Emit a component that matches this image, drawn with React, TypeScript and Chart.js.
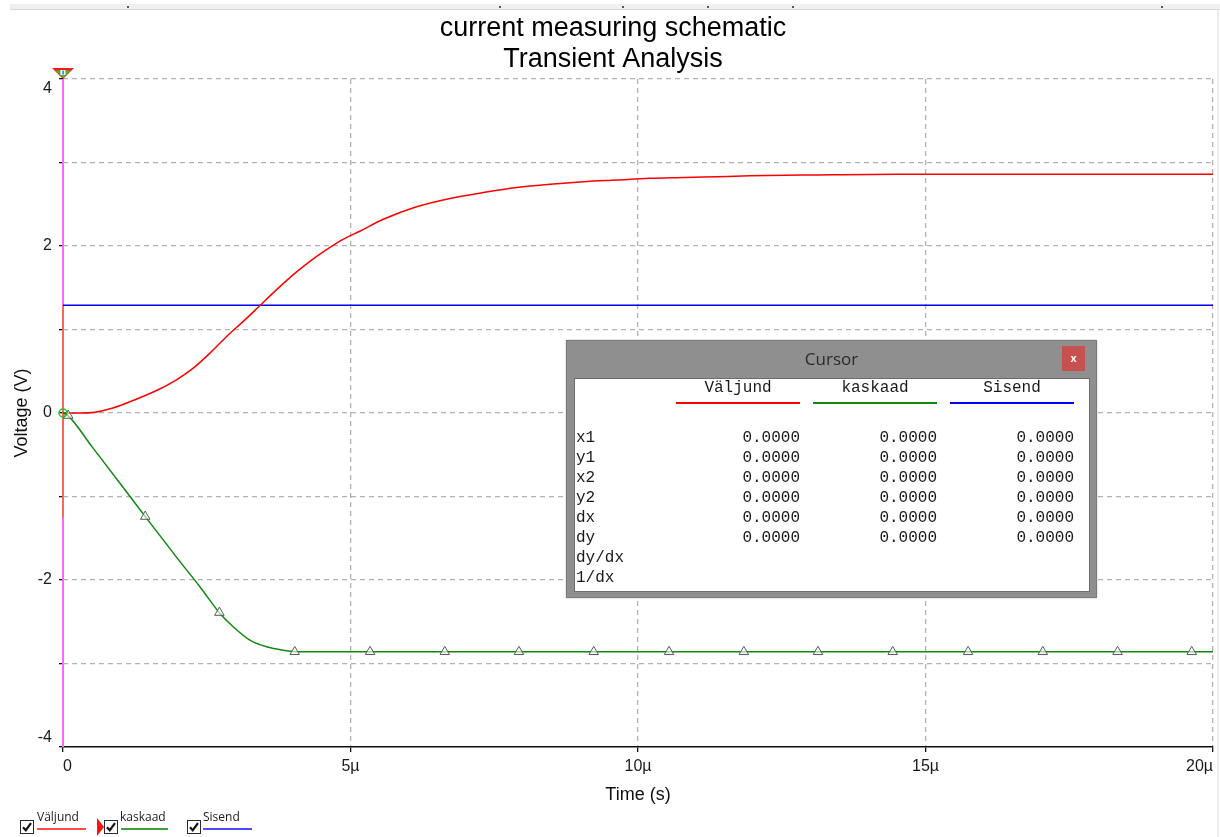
import React, { useEffect, useRef } from 'react';
import { Chart, registerables } from 'chart.js';

Chart.register(...registerables);

// ---- chart text ----
const chartTitle = ['current measuring schematic', 'Transient Analysis'];
const xAxisTitle = 'Time (s)';
const yAxisTitle = 'Voltage (V)';

// ---- axes (time in µs, voltage in V) ----
const xTickValues = [0, 5, 10, 15, 20];
const yTickValues = [-4, -3, -2, -1, 0, 1, 2, 3, 4];
const yLabelledValues = [-4, -2, 0, 2, 4];

// ---- Väljund (output) ----
const outputTime = [0, 0.3, 0.56, 0.82, 1.11, 1.4, 1.69, 1.98, 2.27, 2.56, 2.85, 3.14, 3.43, 3.72, 4.01, 4.3, 4.59, 4.87, 5.17, 5.57, 6.15, 6.73, 7.31, 7.89, 8.47, 9.05, 9.63, 10.2, 10.8, 11.37, 11.95, 13.0, 14.5, 16.0, 18.0, 20.0];
const outputVolts = [0, 0, 0.01, 0.05, 0.12, 0.2, 0.29, 0.4, 0.54, 0.72, 0.92, 1.1, 1.29, 1.48, 1.66, 1.82, 1.96, 2.08, 2.18, 2.32, 2.47, 2.57, 2.64, 2.7, 2.74, 2.77, 2.79, 2.81, 2.82, 2.83, 2.84, 2.85, 2.86, 2.86, 2.86, 2.86];

// ---- kaskaad (cascade) ----
const cascadeTime = [0, 0.1, 0.5, 1.0, 1.43, 2.0, 2.38, 2.73, 2.96, 3.25, 3.54, 3.83, 4.12, 20.0];
const cascadeVolts = [0, -0.04, -0.4, -0.85, -1.24, -1.75, -2.08, -2.4, -2.56, -2.72, -2.8, -2.84, -2.86, -2.86];
const cascadeMarkTime = [0.09, 1.43, 2.72, 4.03, 5.34, 6.64, 7.93, 9.23, 10.54, 11.84, 13.13, 14.43, 15.74, 17.04, 18.34, 19.63];
const cascadeMarkVolts = [-0.03, -1.24, -2.39, -2.86, -2.86, -2.86, -2.86, -2.86, -2.86, -2.86, -2.86, -2.86, -2.86, -2.86, -2.86, -2.86];

// ---- Sisend (input) ----
const inputTime = [0, 20];
const inputVolts = [1.29, 1.29];

// ---- cursor ----
const cursorTime = [0, 0];
const cursorVolts = [4, -4];
const cursorOverlapVolts = [1.29, -1.25];
const cursorPointTime = [0];
const cursorPointVolts = [0];

// ---- legend / cursor panel ----
const seriesNames = ['Väljund', 'kaskaad', 'Sisend'];
const seriesColors = ['#ff0000', '#0f8a0f', '#0000ff'];
const legendLineColors = ['#ff4a4a', '#3f9f3f', '#4a4aff'];
const cursorRowNames = ['x1', 'y1', 'x2', 'y2', 'dx', 'dy', 'dy/dx', '1/dx'];
const cursorRowValues: (number[] | null)[] = [
  [0, 0, 0],
  [0, 0, 0],
  [0, 0, 0],
  [0, 0, 0],
  [0, 0, 0],
  [0, 0, 0],
  null,
  null,
];

const toPoints = (xs: number[], ys: number[]) => xs.map((x, i) => ({ x, y: ys[i] }));

const GRID = '#b2b2b2';
const SANS = "'Liberation Sans', Arial, sans-serif";
const MONO = "'Liberation Mono', 'Courier New', monospace";
const UI = "'Open Sans', 'Noto Sans', sans-serif";

// triangle flag on top of the cursor line
const cursorFlag = {
  id: 'cursorFlag',
  afterDatasetsDraw(chart: any) {
    const { ctx } = chart;
    const x = chart.scales.x.getPixelForValue(cursorTime[0]);
    const y = chart.scales.y.getPixelForValue(cursorVolts[0]);
    ctx.save();
    ctx.fillStyle = '#ff1a1a';
    ctx.beginPath();
    ctx.moveTo(x - 11, y - 11);
    ctx.lineTo(x + 11, y - 11);
    ctx.lineTo(x, y);
    ctx.closePath();
    ctx.fill();
    ctx.fillStyle = '#22d022';
    ctx.beginPath();
    ctx.moveTo(x - 7.5, y - 8.5);
    ctx.lineTo(x + 7.5, y - 8.5);
    ctx.lineTo(x, y - 1);
    ctx.closePath();
    ctx.fill();
    ctx.fillStyle = '#ffffff';
    ctx.fillRect(x - 2.5, y - 9, 5, 5);
    ctx.fillStyle = '#2a2aff';
    ctx.fillRect(x - 0.5, y - 8.5, 1.2, 4);
    ctx.restore();
  },
};

function Checkbox({ left, top }: { left: number; top: number }) {
  return (
    <svg width={14} height={14} style={{ position: 'absolute', left, top }}>
      <rect x={0.5} y={0.5} width={13} height={13} fill="#ffffff" stroke="#2b2b2b" />
      <path d="M3 7.2 L5.8 10.2 L11 3.2" stroke="#111111" strokeWidth={2.2} fill="none" />
    </svg>
  );
}

export default function App() {
  const canvasRef = useRef<HTMLCanvasElement | null>(null);

  useEffect(() => {
    document.body.style.margin = '0';
    const canvas = canvasRef.current;
    if (!canvas) return;

    const chart = new Chart(canvas, {
      type: 'line',
      data: {
        datasets: [
          {
            label: 'cursor point',
            data: toPoints(cursorPointTime, cursorPointVolts),
            showLine: false,
            pointStyle: 'circle',
            pointRadius: 4,
            pointBorderColor: '#1ec81e',
            pointBackgroundColor: 'rgba(0,0,0,0)',
            pointBorderWidth: 1.5,
            clip: false,
          },
          {
            label: 'kaskaad markers',
            data: toPoints(cascadeMarkTime, cascadeMarkVolts),
            showLine: false,
            pointStyle: 'triangle',
            pointRadius: 5.5,
            pointBorderColor: '#5a5a5a',
            pointBackgroundColor: 'rgba(255,255,255,0.6)',
            pointBorderWidth: 1,
            clip: false,
          },
          {
            label: seriesNames[1],
            data: toPoints(cascadeTime, cascadeVolts),
            borderColor: seriesColors[1],
            borderWidth: 1.5,
            pointRadius: 0,
            cubicInterpolationMode: 'monotone',
          },
          {
            label: seriesNames[0],
            data: toPoints(outputTime, outputVolts),
            borderColor: seriesColors[0],
            borderWidth: 1.5,
            pointRadius: 0,
            cubicInterpolationMode: 'monotone',
          },
          {
            label: seriesNames[2],
            data: toPoints(inputTime, inputVolts),
            borderColor: seriesColors[2],
            borderWidth: 1.5,
            pointRadius: 0,
          },
          {
            label: 'cursor overlap',
            data: toPoints(cursorTime, cursorOverlapVolts),
            borderColor: '#f26a5e',
            borderWidth: 2,
            pointRadius: 0,
            clip: false,
          },
          {
            label: 'cursor',
            data: toPoints(cursorTime, cursorVolts),
            borderColor: '#ff66ff',
            borderWidth: 2,
            pointRadius: 0,
            clip: false,
          },
        ],
      },
      options: {
        animation: false,
        responsive: false,
        devicePixelRatio: 1,
        layout: { padding: { top: 0, right: 7, bottom: 0, left: 13 } },
        plugins: {
          legend: { display: false },
          tooltip: { enabled: false },
          title: {
            display: true,
            text: chartTitle,
            color: '#000000',
            font: { family: SANS, size: 27, weight: 'normal', lineHeight: '31px' },
            padding: { top: 13.5, bottom: 3.5 },
          },
        },
        scales: {
          x: {
            type: 'linear',
            min: xTickValues[0],
            max: xTickValues[xTickValues.length - 1],
            afterBuildTicks: (scale: any) => {
              scale.ticks = xTickValues.map((value) => ({ value }));
            },
            afterFit: (scale: any) => {
              scale.height = 90;
            },
            ticks: {
              align: 'inner',
              color: '#1a1a1a',
              padding: 5,
              maxRotation: 0,
              font: { family: SANS, size: 16 },
              callback: (value: any) => (Number(value) === 0 ? '0' : `${value}µ`),
            },
            grid: {
              color: (ctx: any) => (ctx.tick && ctx.tick.value === 0 ? 'rgba(0,0,0,0)' : GRID),
              lineWidth: 1.3,
              tickColor: '#111111',
              tickLength: 5,
              tickBorderDash: [],
            },
            border: { display: true, color: '#111111', width: 1.6, dash: [5, 4] },
            title: {
              display: true,
              text: xAxisTitle,
              color: '#111111',
              font: { family: SANS, size: 18 },
              padding: { top: 0, bottom: 31 },
            },
          },
          y: {
            type: 'linear',
            min: yTickValues[0],
            max: yTickValues[yTickValues.length - 1],
            afterBuildTicks: (scale: any) => {
              scale.ticks = yTickValues.map((value) => ({ value }));
            },
            afterFit: (scale: any) => {
              scale.width = 50;
            },
            ticks: {
              color: '#1a1a1a',
              padding: 7,
              font: { family: SANS, size: 16 },
              callback: (value: any) => {
                const v = Number(value);
                if (!yLabelledValues.includes(v)) return '';
                const s = String(v);
                if (v === yTickValues[yTickValues.length - 1]) return ['', s];
                if (v === yTickValues[0]) return [s, ''];
                return s;
              },
            },
            grid: {
              color: (ctx: any) => (ctx.tick && ctx.tick.value === yTickValues[0] ? 'rgba(0,0,0,0)' : GRID),
              lineWidth: 1.3,
              tickColor: '#111111',
              tickLength: 4,
              tickBorderDash: [],
            },
            border: { display: false, dash: [5, 4] },
            title: {
              display: true,
              text: yAxisTitle,
              color: '#111111',
              font: { family: SANS, size: 18, lineHeight: 1 },
              padding: { top: 0, bottom: 0 },
            },
          },
        },
      },
      plugins: [cursorFlag],
    } as any);

    return () => chart.destroy();
  }, []);

  const legendItems = [
    { box: 20, text: 37, line: 37, lineW: 49 },
    { box: 104, text: 120, line: 121, lineW: 47 },
    { box: 187, text: 203, line: 203, lineW: 49 },
  ];
  const panelCols = [800, 937, 1074];
  const panelLineStarts = [676, 813, 950];
  const topDots = [128, 500, 623, 708, 793, 1162];

  return (
    <div style={{ position: 'relative', width: 1220, height: 837, overflow: 'hidden', background: '#ffffff' }}>
      {/* thin strip along the top edge */}
      <div style={{ position: 'absolute', left: 10, top: 4, width: 1210, height: 5, background: '#f0f0f0', borderBottom: '1px solid #d9d9d9' }} />
      {topDots.map((x) => (
        <div key={x} style={{ position: 'absolute', left: x - 1, top: 6, width: 2, height: 2, background: '#555555' }} />
      ))}
      <div style={{ position: 'absolute', left: 1217, top: 10, width: 2, height: 827, background: '#ececec' }} />

      <canvas ref={canvasRef} width={1220} height={837} style={{ position: 'absolute', left: 0, top: 0, width: 1220, height: 837 }} />

      {/* series toggles */}
      {legendItems.map((it, i) => (
        <React.Fragment key={seriesNames[i]}>
          <Checkbox left={it.box} top={820} />
          <div style={{ position: 'absolute', left: it.text, top: 810, font: `12px ${UI}`, color: '#1c1c1c', lineHeight: '14px', whiteSpace: 'nowrap' }}>
            {seriesNames[i]}
          </div>
          <div style={{ position: 'absolute', left: it.line, top: 828, width: it.lineW, height: 2, background: legendLineColors[i] }} />
        </React.Fragment>
      ))}
      <div style={{ position: 'absolute', left: 97, top: 818, width: 0, height: 0, borderLeft: '7px solid #ff1010', borderTop: '9px solid transparent', borderBottom: '9px solid transparent' }} />

      {/* cursor readout window */}
      <div style={{ position: 'absolute', left: 566, top: 340, width: 531, height: 258, background: '#8f8f8f', boxSizing: 'border-box', border: '1px solid #7a7a7a', boxShadow: '0 0 2px rgba(0,0,0,0.25)' }}>
        <div style={{ position: 'absolute', left: 0, top: 7, width: 529, textAlign: 'center', font: `17px ${UI}`, color: '#2a2a2a', lineHeight: '22px' }}>Cursor</div>
        <div style={{ position: 'absolute', left: 495, top: 5, width: 23, height: 25, background: '#c75050', color: '#ffffff', font: `bold 11px ${SANS}`, lineHeight: '25px', textAlign: 'center' }}>x</div>
        <div style={{ position: 'absolute', left: 7, top: 37, width: 516, height: 214, background: '#ffffff', boxSizing: 'border-box', border: '1px solid #6c6c6c' }} />
      </div>
      {seriesNames.map((name, i) => (
        <React.Fragment key={'h' + name}>
          <div style={{ position: 'absolute', left: panelLineStarts[i], top: 378, width: panelCols[i] - panelLineStarts[i], textAlign: 'center', font: `16px ${MONO}`, color: '#1a1a1a', lineHeight: '20px', whiteSpace: 'pre' }}>
            {name}
          </div>
          <div style={{ position: 'absolute', left: panelLineStarts[i], top: 402, width: panelCols[i] - panelLineStarts[i], height: 2, background: seriesColors[i] }} />
        </React.Fragment>
      ))}
      {cursorRowNames.map((row, r) => (
        <React.Fragment key={row}>
          <div style={{ position: 'absolute', left: 576, top: 428 + r * 20, font: `16px ${MONO}`, color: '#1a1a1a', lineHeight: '20px', whiteSpace: 'pre' }}>{row}</div>
          {cursorRowValues[r] &&
            (cursorRowValues[r] as number[]).map((v, c) => (
              <div key={c} style={{ position: 'absolute', left: panelCols[c] - 120, width: 120, textAlign: 'right', top: 428 + r * 20, font: `16px ${MONO}`, color: '#1a1a1a', lineHeight: '20px', whiteSpace: 'pre' }}>
                {v.toFixed(4)}
              </div>
            ))}
        </React.Fragment>
      ))}
    </div>
  );
}
